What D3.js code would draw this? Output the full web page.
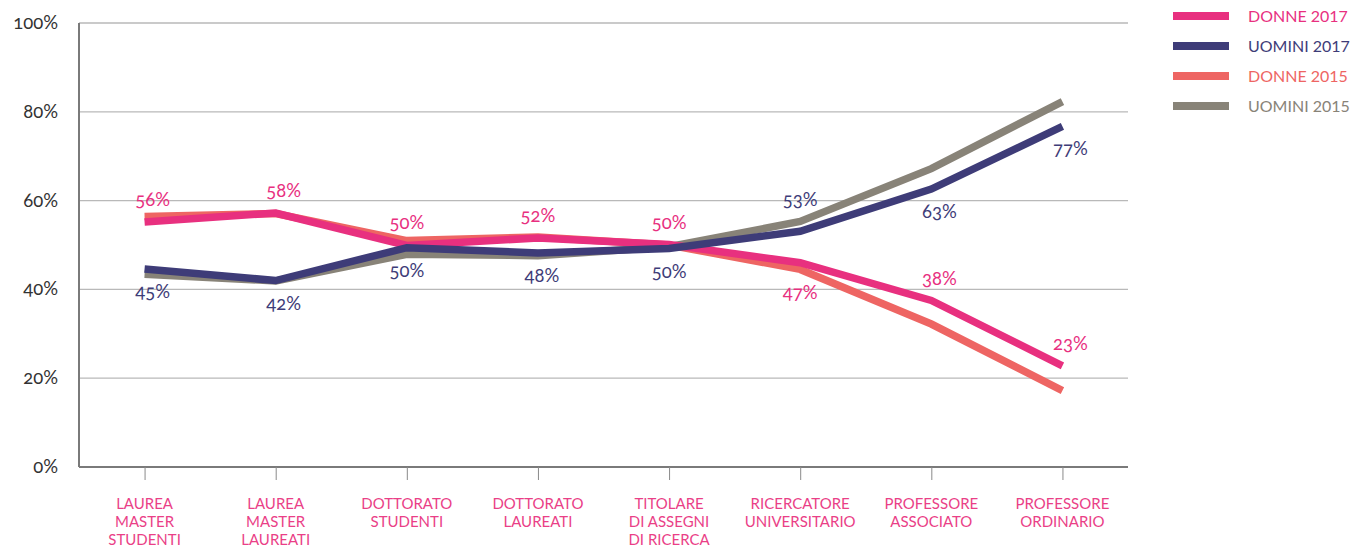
<!DOCTYPE html>
<html>
<head>
<meta charset="utf-8">
<script src="https://cdn.jsdelivr.net/npm/d3@7"></script>
<style>
  body { margin: 0; background: #fff; }
  text { font-family: Lato, "Open Sans", sans-serif; font-feature-settings: "onum"; }
  text.leg { font-feature-settings: "lnum"; }
</style>
</head>
<body>
<svg id="chart"></svg>
<script>
var width = 1352, height = 547;

// categorie asse x (righe separate per etichetta)
var categories = [
  ["LAUREA", "MASTER", "STUDENTI"],
  ["LAUREA", "MASTER", "LAUREATI"],
  ["DOTTORATO", "STUDENTI"],
  ["DOTTORATO", "LAUREATI"],
  ["TITOLARE", "DI ASSEGNI", "DI RICERCA"],
  ["RICERCATORE", "UNIVERSITARIO"],
  ["PROFESSORE", "ASSOCIATO"],
  ["PROFESSORE", "ORDINARIO"]
];
var yTicks = [0, 20, 40, 60, 80, 100];

var donne2017 = [55.2, 57.2, 49.9, 51.6, 50.1, 46.0, 37.5, 22.8];
var uomini2017 = [44.6, 42.0, 49.4, 48.2, 49.2, 53.1, 62.6, 76.7];
var donne2015 = [56.4, 57.1, 51.0, 51.8, 50.0, 44.5, 32.2, 17.2];
var uomini2015 = [43.4, 41.9, 47.9, 47.6, 49.6, 55.3, 67.2, 82.3];

var labelsDonne2017 = ["56%", "58%", "50%", "52%", "50%", "47%", "38%", "23%"];
var labelsUomini2017 = ["45%", "42%", "50%", "48%", "50%", "53%", "63%", "77%"];

var series = [
  {name: "DONNE 2015", values: donne2015, color: "#ee6563"},
  {name: "UOMINI 2015", values: uomini2015, color: "#888378"},
  {name: "DONNE 2017", values: donne2017, color: "#e8307f"},
  {name: "UOMINI 2017", values: uomini2017, color: "#3e3c78"}
];
var legendOrder = ["DONNE 2017", "UOMINI 2017", "DONNE 2015", "UOMINI 2015"];

var svg = d3.select("#chart")
    .attr("width", width)
    .attr("height", height);

var x = d3.scalePoint()
    .domain(d3.range(categories.length))
    .range([79, 1128])
    .padding(0.5);
var y = d3.scaleLinear()
    .domain([0, 100])
    .range([467, 23]);

// griglia
svg.append("g")
    .selectAll("line")
    .data(yTicks.filter(d => d > 0))
    .join("line")
    .attr("x1", 79)
    .attr("x2", 1128)
    .attr("y1", d => y(d))
    .attr("y2", d => y(d))
    .attr("stroke", "#b9b9b9")
    .attr("stroke-width", 1.3);

// etichette asse y
svg.append("g")
    .selectAll("text")
    .data(yTicks)
    .join("text")
    .attr("x", 58)
    .attr("y", d => y(d) + 6)
    .attr("text-anchor", "end")
    .attr("font-size", 18.5)
    .attr("fill", "#333")
    .text(d => d + "%");

// asse x
var xAxis = svg.append("g")
    .attr("transform", "translate(0," + y(0) + ")")
    .call(d3.axisBottom(x).tickSize(13).tickFormat(""));
xAxis.select(".domain")
    .attr("d", "M79,0H1128")
    .attr("stroke", "#7a7a7a")
    .attr("stroke-width", 2);
xAxis.selectAll(".tick line")
    .attr("stroke", "#8a8a8a")
    .attr("stroke-width", 1);

// asse y
svg.append("line")
    .attr("x1", 79).attr("x2", 79)
    .attr("y1", y(100)).attr("y2", y(0))
    .attr("stroke", "#7a7a7a")
    .attr("stroke-width", 2);

// etichette categorie
var catLabels = svg.append("g")
    .selectAll("text")
    .data(categories)
    .join("text")
    .attr("x", (d, i) => x(i))
    .attr("y", 509)
    .attr("text-anchor", "middle")
    .attr("font-size", 15)
    .attr("fill", "#ea3f87");
catLabels.selectAll("tspan")
    .data(d => d)
    .join("tspan")
    .attr("x", function() { return d3.select(this.parentNode).attr("x"); })
    .attr("dy", (d, i) => i == 0 ? 0 : 18)
    .text(d => d);

// linee
var line = d3.line()
    .x((d, i) => x(i))
    .y(d => y(d));
svg.append("g")
    .selectAll("path")
    .data(series)
    .join("path")
    .attr("fill", "none")
    .attr("stroke", d => d.color)
    .attr("stroke-width", 7.5)
    .attr("stroke-linejoin", "miter")
    .attr("d", d => line(d.values));

// etichette dati donne 2017 (sopra, tranne ricercatore)
svg.append("g")
    .selectAll("text")
    .data(labelsDonne2017)
    .join("text")
    .attr("x", (d, i) => x(i) + (i == 0 || i == 1 || i >= 6 ? 8 : 0))
    .attr("y", (d, i) => i == 5 ? y(donne2017[i]) + 36 : y(donne2017[i]) - 16)
    .attr("text-anchor", "middle")
    .attr("font-size", 18.5)
    .attr("fill", "#e8307f")
    .text(d => d);

// etichette dati uomini 2017 (sotto, tranne ricercatore)
svg.append("g")
    .selectAll("text")
    .data(labelsUomini2017)
    .join("text")
    .attr("x", (d, i) => x(i) + (i == 0 || i == 1 || i >= 6 ? 8 : (i == 3 ? 4 : 0)))
    .attr("y", (d, i) => i == 5 ? y(uomini2017[i]) - 25 : y(uomini2017[i]) + 29)
    .attr("text-anchor", "middle")
    .attr("font-size", 18.5)
    .attr("fill", "#3e3c78")
    .text(d => d);

// legenda
var legend = svg.append("g")
    .selectAll("g")
    .data(legendOrder.map(n => series.find(s => s.name == n)))
    .join("g")
    .attr("transform", (d, i) => "translate(1173," + (16 + i * 30) + ")");
legend.append("line")
    .attr("x1", 0).attr("x2", 56)
    .attr("stroke", d => d.color)
    .attr("stroke-width", 8);
legend.append("text")
    .attr("class", "leg")
    .attr("x", 75)
    .attr("y", 6)
    .attr("font-size", 16)
    .attr("fill", d => d.color)
    .text(d => d.name);
</script>
</body>
</html>
